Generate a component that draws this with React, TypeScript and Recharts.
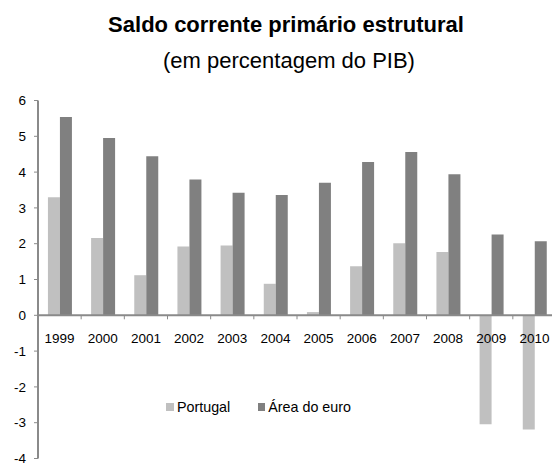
import React from "react";
import { Bar, BarChart, Legend, ReferenceLine, XAxis, YAxis } from "recharts";

const years = ["1999", "2000", "2001", "2002", "2003", "2004", "2005", "2006", "2007", "2008", "2009", "2010"];
const portugal = [3.3, 2.16, 1.12, 1.92, 1.95, 0.88, 0.09, 1.37, 2.01, 1.77, -3.04, -3.19];
const euroArea = [5.54, 4.95, 4.44, 3.79, 3.42, 3.36, 3.7, 4.28, 4.56, 3.94, 2.26, 2.07];
const yTicks = [-4, -3, -2, -1, 0, 1, 2, 3, 4, 5, 6];

const W = 556;
const H = 463;
const X_AXIS_H = 1;
const MARGIN = { top: 100.5, right: 0, bottom: 3.5, left: 0 };
const Y_AXIS_W = 38;
const Y_MIN = -4;
const Y_MAX = 6;
const PLOT_H = H - MARGIN.top - MARGIN.bottom - X_AXIS_H;
const ZERO_Y = MARGIN.top + (PLOT_H * Y_MAX) / (Y_MAX - Y_MIN);
const BAND = (W - Y_AXIS_W - MARGIN.left - MARGIN.right) / years.length;

const AXIS = "#8a8a8a";
const FONT = "'Liberation Sans', Arial, sans-serif";

const data = years.map((year, i) => ({
  year,
  portugal: portugal[i],
  euro: euroArea[i],
}));

// x labels sit under the zero line, not at the bottom of the plot
const renderYearTick = (props: any) => {
  const { x, payload, index } = props;
  const i = payload?.index ?? index ?? 0;
  return (
    <g key={`yt-${i}`}>
      {i > 0 && (
        <line x1={x - BAND / 2} x2={x - BAND / 2} y1={ZERO_Y} y2={ZERO_Y + 4} stroke={AXIS} strokeWidth={1} />
      )}
      <text x={x} y={ZERO_Y + 27.5} textAnchor="middle" fontSize={13.5} fill="#000" fontFamily={FONT}>
        {payload.value}
      </text>
    </g>
  );
};

const LegendContent = () => (
  <div style={{ display: "flex", alignItems: "center", fontSize: 14.3, fontFamily: FONT, color: "#000", whiteSpace: "nowrap" }}>
    <span style={{ width: 8, height: 8, background: "#c0c0c0", marginRight: 3 }} />
    <span style={{ marginRight: 28 }}>Portugal</span>
    <span style={{ width: 7, height: 8, background: "#808080", marginRight: 3 }} />
    <span>Área do euro</span>
  </div>
);

export default function App() {
  return (
    <div style={{ position: "absolute", left: 0, top: 0, width: 552, height: H, overflow: "hidden", background: "#fff", fontFamily: FONT }}>
      <div style={{ position: "absolute", left: 286, top: 12, transform: "translateX(-50%)", fontSize: 22, fontWeight: "bold", whiteSpace: "nowrap", color: "#000" }}>
        Saldo corrente primário estrutural
      </div>
      <div style={{ position: "absolute", left: 289, top: 48, transform: "translateX(-50%)", fontSize: 22, whiteSpace: "nowrap", color: "#000" }}>
        (em percentagem do PIB)
      </div>
      <div style={{ position: "absolute", left: 0, top: 0 }}>
        <BarChart width={W} height={H} data={data} margin={MARGIN} barCategoryGap="23%" barGap={0}>
          <XAxis dataKey="year" height={X_AXIS_H} axisLine={false} tickLine={false} tick={renderYearTick} interval={0} />
          <YAxis
            width={Y_AXIS_W}
            domain={[Y_MIN, Y_MAX]}
            ticks={yTicks}
            interval={0}
            axisLine={{ stroke: AXIS, strokeWidth: 2 }}
            tickLine={{ stroke: AXIS }}
            tickSize={4}
            tickMargin={8}
            tick={{ fill: "#000", fontSize: 13.5, fontFamily: FONT }}
          />
          <Bar dataKey="portugal" name="Portugal" fill="#c0c0c0" isAnimationActive={false} />
          <Bar dataKey="euro" name="Área do euro" fill="#808080" isAnimationActive={false} />
          <ReferenceLine y={0} stroke={AXIS} strokeWidth={2} />
          <Legend
            layout="vertical"
            verticalAlign="middle"
            align="center"
            content={<LegendContent />}
            wrapperStyle={{ position: "absolute", left: 166, top: 399, width: "auto" }}
          />
        </BarChart>
      </div>
    </div>
  );
}
